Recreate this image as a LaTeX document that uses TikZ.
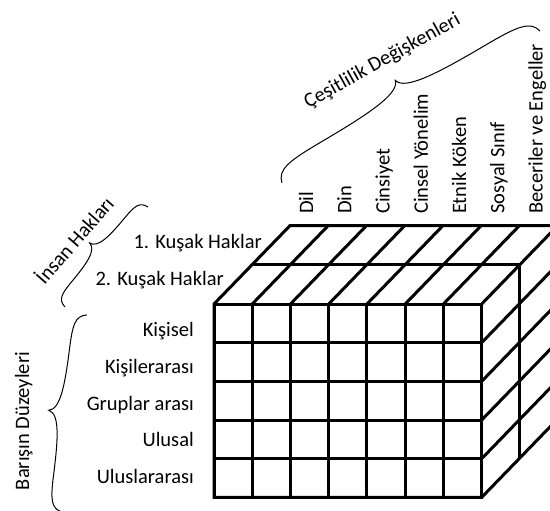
\documentclass[tikz,border=0pt]{standalone}
\usepackage{fontspec}
\setmainfont{Carlito}
\newcommand{\cbrace}[5]{%
\begin{scope}[shift={(#1,#2)},rotate=#3]
\draw[bracestyle] (0,0) .. controls (0.01*#4,-0.45*#5) and (0.06*#4,-0.5*#5) .. (0.18*#4,-0.5*#5)
  .. controls (0.36*#4,-0.5*#5) and (0.49*#4,-0.55*#5) .. (0.5*#4,-#5)
  .. controls (0.51*#4,-0.55*#5) and (0.64*#4,-0.5*#5) .. (0.82*#4,-0.5*#5)
  .. controls (0.94*#4,-0.5*#5) and (0.99*#4,-0.45*#5) .. (#4,0);
\end{scope}}
\begin{document}
\begin{tikzpicture}[x=1pt,y=-1pt,
  cube/.style={line width=3pt, line join=miter},
  bracestyle/.style={line width=1pt},
  lab/.style={font=\fontsize{20.5}{24}\selectfont, inner sep=0pt}]
\useasboundingbox (0,0) rectangle (550,511);
\fill[white] (0,0) rectangle (550,511);
\def\X{214} \def\Y{304} \def\cw{38.24} \def\rh{38.67} \def\dx{38} \def\dy{39.2}
\begin{scope}
\clip (0,0) rectangle (550,511);
% outer contour
\draw[cube] (\X,\Y+5*\rh) -- (\X,\Y) -- (\X+2*\dx,\Y-2*\dy) -- (\X+7*\cw+2*\dx,\Y-2*\dy)
  -- (\X+7*\cw+2*\dx,\Y+5*\rh-2*\dy) -- (\X+7*\cw,\Y+5*\rh) -- cycle;
% front face
\draw[cube] (\X,\Y) rectangle (\X+7*\cw,\Y+5*\rh);
\foreach \i in {1,...,6} \draw[cube] (\X+\i*\cw,\Y) -- (\X+\i*\cw,\Y+5*\rh);
\foreach \j in {1,...,4} \draw[cube] (\X,\Y+\j*\rh) -- (\X+7*\cw,\Y+\j*\rh);
% top face
\draw[cube] (\X+\dx,\Y-\dy) -- (\X+7*\cw+\dx,\Y-\dy);
\foreach \i in {1,...,7} \draw[cube] (\X+\i*\cw,\Y) -- (\X+\i*\cw+2*\dx,\Y-2*\dy);
% right face
\draw[cube] (\X+7*\cw+\dx,\Y-\dy) -- (\X+7*\cw+\dx,\Y+5*\rh-\dy);
\foreach \j in {1,...,4} \draw[cube] (\X+7*\cw,\Y+\j*\rh) -- (\X+7*\cw+2*\dx,\Y+\j*\rh-2*\dy);
% braces
\cbrace{282}{183}{30.5}{299.4}{31}
\cbrace{65}{307}{50.3}{130}{22}
\cbrace{62}{512}{82.8}{198.6}{26}
\end{scope}
% row labels
\node[lab,anchor=base east] (r1) at (194,336.7) {Kişisel};
\node[lab,anchor=base east] (r2) at (194,373.3) {Kişilerarası};
\node[lab,anchor=base east] (r3) at (194,410) {Gruplar arası};
\node[lab,anchor=base east] (r4) at (194,446.7) {Ulusal};
\node[lab,anchor=base east] (r5) at (194,483.3) {Uluslararası};
% depth labels
\node[lab,anchor=base east] (k1) at (262,248.3) {1. Kuşak Haklar};
\node[lab,anchor=base east] (k2) at (224,285) {2. Kuşak Haklar};
% column labels
\node[lab,anchor=base west,rotate=90] (c1) at (313.1,214) {Dil};
\node[lab,anchor=base west,rotate=90] (c2) at (351.4,214) {Din};
\node[lab,anchor=base west,rotate=90] (c3) at (389.6,214) {Cinsiyet};
\node[lab,anchor=base west,rotate=90] (c4) at (427.8,214) {Cinsel Yönelim};
\node[lab,anchor=base west,rotate=90] (c5) at (466.1,214) {Etnik Köken};
\node[lab,anchor=base west,rotate=90] (c6) at (504.3,214) {Sosyal Sınıf};
\node[lab,anchor=base west,rotate=90] (c7) at (542.6,214) {Beceriler ve Engeller};
% group labels
\node[lab,anchor=base,rotate=29] (g1) at (385,66) {Çeşitlilik Değişkenleri};
\node[lab,anchor=base,rotate=49] (g2) at (80,245) {İnsan Hakları};
\node[lab,anchor=base,rotate=90] (g3) at (29,421) {Barışın Düzeyleri};
\end{tikzpicture}
\end{document}
